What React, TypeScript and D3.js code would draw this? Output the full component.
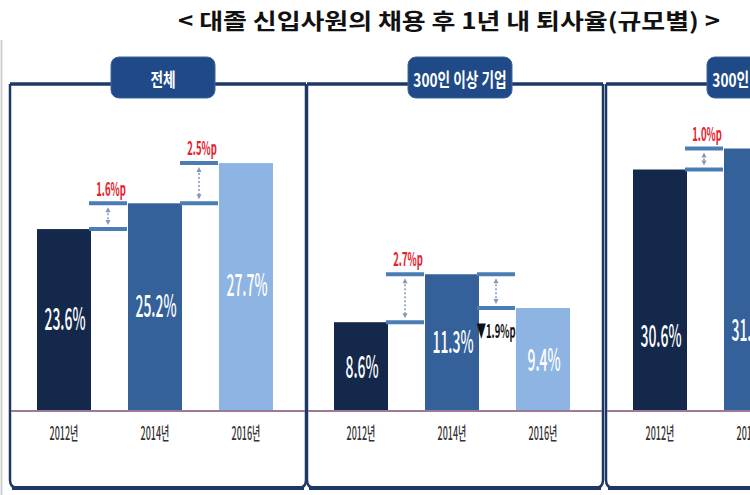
import React from "react";
import * as d3 from "d3";

const title = "< 대졸 신입사원의 채용 후 1년 내 퇴사율(규모별) >";
const panelNames = ["전체", "300인 이상 기업", "300인 미만 기업"];
const years = ["2012년", "2014년", "2016년"];
const totalRates = [23.6, 25.2, 27.7];
const largeRates = [8.6, 11.3, 9.4];
const smallRates = [30.6, 31.6];
const seriesByPanel = [totalRates, largeRates, smallRates];

const barColors = ["#13284b", "#35619b", "#8db4e3"];

const W = 750, H = 495;
const panelLefts = [10, 307, 606];
const panelW = 296;
const panelTop = 84, panelBottom = 488, baseline = 411;
const barW = 54;
const scaleCfg = [
  { v0: 12.3, ppu: 16.1, lab: 0.48 },
  { v0: 3.6, ppu: 17.76, lab: 0.48 },
  { v0: 19.1, ppu: 21, lab: 0.68 },
];
const FONT = "'Noto Sans CJK KR', 'Noto Sans', sans-serif";

function CText(props: any) {
  const { x, y, sx = 0.5, size, fill, weight = 700, children, anchor = "middle" } = props;
  return (
    <text
      transform={`translate(${x},${y}) scale(${sx},1)`}
      textAnchor={anchor}
      dominantBaseline="central"
      fontSize={size}
      fill={fill}
      fontWeight={weight}
      fontFamily={FONT}
    >
      {children}
    </text>
  );
}

function Panel({ idx }: { idx: number }) {
  const left = panelLefts[idx];
  const right = left + panelW;
  const values = seriesByPanel[idx];
  const cfg = scaleCfg[idx];
  const x = d3.scalePoint<string>().domain(years).range([left + 54, left + 236]);
  const y = d3.scaleLinear().domain([cfg.v0, cfg.v0 + 100]).range([baseline, baseline - 100 * cfg.ppu]);
  const r = 8;
  const border = `M${left},${panelTop} L${left},${panelBottom - r} Q${left},${panelBottom} ${left + r},${panelBottom} L${right - r},${panelBottom} Q${right},${panelBottom} ${right},${panelBottom - r} L${right},${panelTop}`;
  const hx = left + 153;
  return (
    <g>
      <path d={border} fill="#fff" stroke="#1d3866" strokeWidth={2.5} />
      <line x1={left} x2={right} y1={panelTop} y2={panelTop} stroke="#1d3866" strokeWidth={3.5} />
      <line x1={left + 2} x2={right - 2} y1={panelBottom} y2={panelBottom} stroke="#1d3866" strokeWidth={4} />
      <rect x={hx - 52} y={57} width={104} height={41} rx={8} fill="#1f4a87" stroke="#3a64a0" strokeWidth={1} />
      <CText x={hx} y={79} sx={0.72} size={19} fill="#fff">{panelNames[idx]}</CText>
      {values.map((v, i) => {
        const cx = x(years[i])!;
        const top = y(v);
        return (
          <g key={i}>
            <rect x={cx - barW / 2} y={top} width={barW} height={baseline - top} fill={barColors[i]} />
            <CText x={cx + 1} y={top + (baseline - top) * cfg.lab} sx={0.45} size={31} fill="#fff" weight={500}>
              {v.toFixed(1) + "%"}
            </CText>
          </g>
        );
      })}
      {values.slice(1).map((v, i) => {
        const prev = values[i];
        const x0 = x(years[i])! + barW / 2 - 2;
        const x1 = x(years[i + 1])! - barW / 2 - 1;
        const gx = (x0 + x1) / 2;
        const yUp = y(Math.max(prev, v));
        const yLo = y(Math.min(prev, v));
        const diff = v - prev;
        return (
          <g key={"d" + i}>
            <line x1={x0} x2={x1} y1={yUp} y2={yUp} stroke="#4b7db5" strokeWidth={4} />
            <line x1={x0} x2={x1} y1={yLo} y2={yLo} stroke="#4b7db5" strokeWidth={4} />
            <line x1={gx} x2={gx} y1={yUp + 6} y2={yLo - 6} stroke="#8298b8" strokeWidth={1.5} strokeDasharray="2,2" />
            <path d={`M${gx - 2.5},${yUp + 9} L${gx},${yUp + 4} L${gx + 2.5},${yUp + 9} Z`} fill="#8298b8" />
            <path d={`M${gx - 2.5},${yLo - 9} L${gx},${yLo - 4} L${gx + 2.5},${yLo - 9} Z`} fill="#8298b8" />
            {diff >= 0 ? (
              <CText x={gx + 3} y={yUp - 16} sx={0.5} size={19} fill="#e5202b">
                {diff.toFixed(1) + "%p"}
              </CText>
            ) : (
              <CText x={gx} y={yLo + 22} sx={0.5} size={19} fill="#111">
                {"▼" + Math.abs(diff).toFixed(1) + "%p"}
              </CText>
            )}
          </g>
        );
      })}
      <line x1={left + 1} x2={right - 1} y1={baseline} y2={baseline} stroke="#9a7a98" strokeWidth={2} />
      {years.map((yr) => (
        <CText key={yr} x={x(yr)!} y={432} sx={0.5} size={18} fill="#333" weight={500}>
          {yr}
        </CText>
      ))}
    </g>
  );
}

export default function App() {
  return (
    <svg width={W} height={H} style={{ position: "absolute", left: 0, top: 0, background: "#fff" }}>
      <rect x={0} y={0} width={W} height={H} fill="#fff" />
      <line x1={1.5} x2={1.5} y1={40} y2={H} stroke="#d0d0d0" strokeWidth={2} />
      <text
        x={178}
        y={19}
        textLength={542}
        lengthAdjust="spacingAndGlyphs"
        dominantBaseline="central"
        fontSize={22}
        fontWeight={700}
        fontFamily={FONT}
        fill="#111"
      >
        {title}
      </text>
      {panelNames.map((_, i) => (
        <Panel key={i} idx={i} />
      ))}
    </svg>
  );
}
